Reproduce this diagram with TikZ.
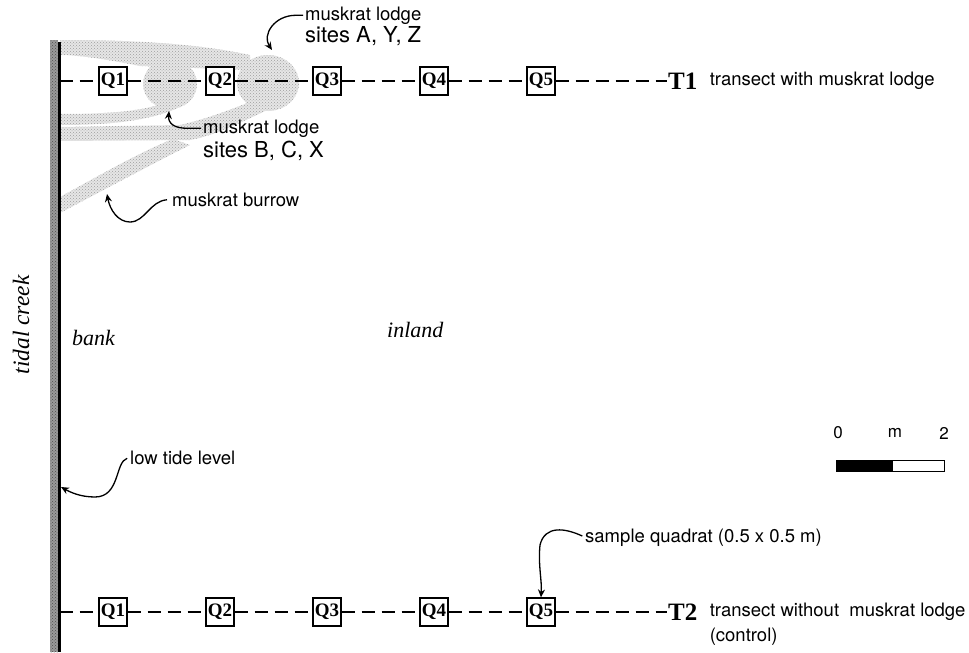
\documentclass[tikz,border=0pt]{standalone}
\usepackage{fontspec}
\setmainfont{Liberation Serif}
\setsansfont{TeX Gyre Heros}
\usetikzlibrary{arrows.meta, positioning, calc, patterns}
\definecolor{creekgray}{HTML}{9A9A9A}
\definecolor{burrowgray}{HTML}{E6E6E6}
\tikzset{
  quad/.style={draw, line width=1.2pt, fill=white, minimum size=28pt, inner sep=0pt, font=\fontsize{19}{19}\selectfont\bfseries},
  tline/.style={line width=1.3pt, dash pattern=on 13pt off 7pt},
  tname/.style={font=\fontsize{25}{25}\selectfont\bfseries, inner sep=1pt},
  lbl/.style={font=\sffamily\fontsize{18.5}{22}\selectfont, inner sep=0pt},
  sites/.style={lbl, font=\sffamily\fontsize{22}{24}\selectfont},
  place/.style={font=\itshape\fontsize{22}{24}\selectfont, inner sep=0pt},
  scl/.style={font=\sffamily\fontsize{17}{17}\selectfont, inner sep=0pt},
  lead/.style={-{Stealth[length=8pt, width=7pt]}, line width=1.3pt},
  stipple/.style={fill=burrowgray, postaction={pattern=crosshatch dots, pattern color=black!38}},
}

\begin{document}
\begin{tikzpicture}[x=1pt, y=-1pt]
  \useasboundingbox (0,0) rectangle (969,653);

  % burrows and lodges along T1
  \path[stipple]
    (60,40) .. controls (120,40) and (190,42) .. (250,55) -- (250,70) -- (195,68)
      -- (140,66) .. controls (110,60) and (80,55) .. (60,55) -- cycle
    (170,84) ellipse [x radius=27, y radius=25]
    (268,83) ellipse [x radius=31, y radius=28]
    (60,114) .. controls (110,114) and (150,111) .. (170,100) -- (180,107)
      .. controls (150,121) and (110,125) .. (60,125) -- cycle
    (60,127) -- (180,125) .. controls (210,118) and (235,108) .. (257,99) -- (280,104)
      .. controls (250,118) and (215,136) .. (190,140) -- (60,141) -- cycle
    (60,197) .. controls (100,175) and (140,152) .. (173,139) -- (190,145)
      .. controls (150,165) and (100,192) .. (60,213) -- cycle;

  % the creek bank
  \fill[creekgray] (50,40) rectangle (58,652);
  \fill[pattern=crosshatch dots, pattern color=black!70] (50,40) rectangle (58,652);
  \draw[line width=2.3pt] (59.5,42) -- (59.5,652);
  \coordinate (bank1) at (59.5,81);
  \coordinate (bank2) at (59.5,612);

  \node[place, rotate=90, font=\itshape\fontsize{23.5}{24}\selectfont] (creek) at (21,325) {tidal creek};
  \node[place, anchor=base west] (bank) at (72,345) {bank};
  \node[place, anchor=base west] (inland) at (387,337) {inland};

  % transects with their quadrats
  \foreach \tr/\y in {1/81, 2/612} {
    \foreach \i in {1,...,5}
      \node[quad] (q\tr\i) at ({113+107*(\i-1)},\y) {Q\i};
    \node[tname, anchor=west] (t\tr) at (667,\y) {T\tr};
    \draw[tline] (bank\tr) -- (q\tr1) -- (q\tr2) -- (q\tr3) -- (q\tr4) -- (q\tr5) -- (t\tr);
  }

  \node[lbl, right=11pt of t1] (with) {transect with muskrat lodge};
  \node[lbl, right=11pt of t2] (without) {transect without\ \ muskrat lodge};
  \node[lbl, anchor=base west] (control) at ($(without.base west)+(0,25)$) {(control)};

  % labels and leaders
  \node[lbl, anchor=base west] (lodgeA) at (305,20) {muskrat lodge};
  \node[sites, anchor=base west] (sitesA) at (305,42) {sites A, Y, Z};
  \node[lbl, anchor=base west] (lodgeB) at (203,133) {muskrat lodge};
  \node[sites, anchor=base west] (sitesB) at (203,157) {sites B, C, X};
  \node[lbl, anchor=base west] (burrow) at (172,206) {muskrat burrow};
  \node[lbl, anchor=base west] (lowtide) at (130,464) {low tide level};
  \node[lbl, anchor=base west] (quadrat) at (585,542) {sample quadrat (0.5 x 0.5 m)};

  \coordinate (lodgeAtip) at (272,50);
  \coordinate (lodgeBtip) at (169,111);
  \coordinate (burrowtip) at (107,194);
  \coordinate (lowtip) at (61,487);

  \draw[lead, shorten <=2pt] (lodgeA.west) -- ++(-9,0) .. controls +(-22,0) and (262,35) .. (lodgeAtip);
  \draw[lead, shorten <=2pt] (lodgeB.west) -- ++(-16,0) .. controls +(-12,0) and (168,124) .. (lodgeBtip);
  \draw[lead, shorten <=5pt] (burrow.west) .. controls (150,201) and (145,222) .. (130,222)
    .. controls (118,222) and (110,210) .. (burrowtip);
  \draw[lead, shorten <=3pt] (lowtide.west) .. controls (115,462) and (120,497) .. (95,497)
    .. controls (80,497) and (70,492) .. (lowtip);
  \draw[lead, shorten <=3pt] (quadrat.west) .. controls (565,528) and (545,525) .. (540,545)
    .. controls (538,565) and (542,580) .. (q25.north);

  % scale bar
  \node[scl] (s0) at (838,433) {0};
  \node[scl] (sm) at (895,433) {m};
  \node[scl] (s2) at (944,433) {2};
  \filldraw[line width=1pt] (836,460) rectangle (892,471);
  \draw[line width=1pt] (892,460) rectangle (944,471);
\end{tikzpicture}
\end{document}
